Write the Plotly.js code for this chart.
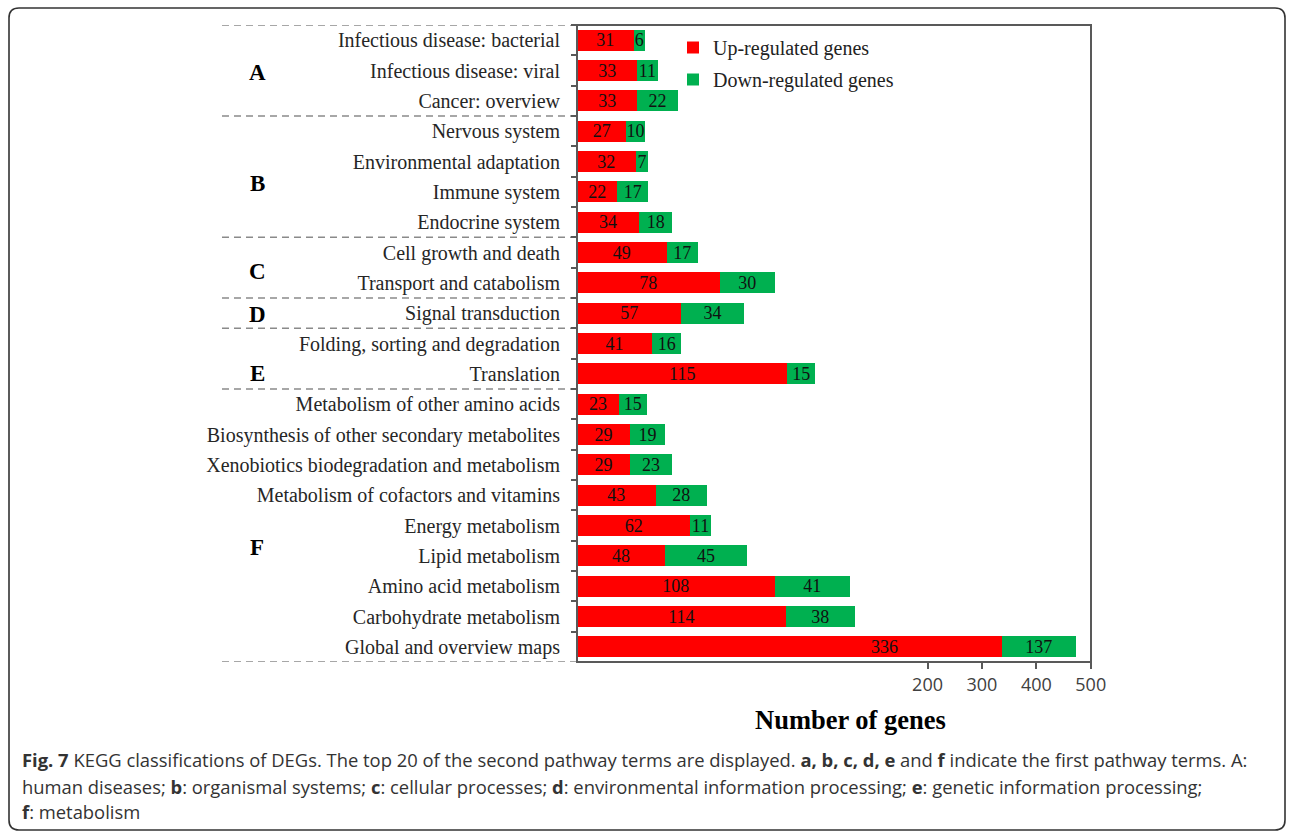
<!DOCTYPE html>
<html>
<head>
<meta charset="utf-8">
<script src="https://cdn.plot.ly/plotly-3.0.1.min.js"></script>
<style>html,body{margin:0;padding:0;background:#fff;}#chart{width:1292px;height:833px;}</style>
</head>
<body>
<div id="chart"></div>
<script>
// ---------------- data ----------------
const categories = [
  "Infectious disease: bacterial",
  "Infectious disease: viral",
  "Cancer: overview",
  "Nervous system",
  "Environmental adaptation",
  "Immune system",
  "Endocrine system",
  "Cell growth and death",
  "Transport and catabolism",
  "Signal transduction",
  "Folding, sorting and degradation",
  "Translation",
  "Metabolism of other amino acids",
  "Biosynthesis of other secondary metabolites",
  "Xenobiotics biodegradation and metabolism",
  "Metabolism of cofactors and vitamins",
  "Energy metabolism",
  "Lipid metabolism",
  "Amino acid metabolism",
  "Carbohydrate metabolism",
  "Global and overview maps"
];
const upRegulated   = [31, 33, 33, 27, 32, 22, 34, 49, 78, 57, 41, 115, 23, 29, 29, 43, 62, 48, 108, 114, 336];
const downRegulated = [6, 11, 22, 10, 7, 17, 18, 17, 30, 34, 16, 15, 15, 19, 23, 28, 11, 45, 41, 38, 137];
const groupLetters = ["A", "B", "C", "D", "E", "F"];
const groupSizes   = [3, 4, 2, 1, 2, 9];
const xTickValues  = [200, 300, 400, 500];
const seriesNames  = ["Up-regulated genes", "Down-regulated genes"];

// ---------------- layout helpers ----------------
const W = 1292, H = 833;
const M = {l: 577, r: 201, t: 25, b: 171};
const PW = W - M.l - M.r, PH = H - M.t - M.b;
const px = x => (x - M.l) / PW;       // pixel -> paper x
const py = y => (H - M.b - y) / PH;   // pixel -> paper y

// broken axis: lower part [0, axisBreak], upper part [axisBreak, axisTop]
const axisBreak = 188, axisTop = 500.5;
const splitFrac = 344 / PW;

const RED = "#FF0000", GREEN = "#00B050";
const serif = "Liberation Serif, Times New Roman, serif";
const textFont = {family: serif, size: 18, color: "#111"};

// labels: red on the lower axis; green on whichever axis holds its centre
const lowDownText = downRegulated.map((d, i) => (upRegulated[i] + d / 2 < axisBreak ? String(d) : ""));
const highDownText = downRegulated.map((d, i) => (upRegulated[i] + d / 2 < axisBreak ? "" : String(d)));

function barTrace(vals, name, color, xaxis, text, showlegend, group) {
  return {
    type: "bar", orientation: "h",
    x: vals, y: categories, name: name,
    xaxis: xaxis, yaxis: "y",
    marker: {color: color, line: {width: 0}},
    text: text, textposition: "inside", insidetextanchor: "middle",
    textangle: 0, constraintext: "none",
    insidetextfont: textFont, textfont: textFont,
    showlegend: showlegend, legendgroup: group,
    hoverinfo: "x+y+name"
  };
}

const traces = [
  barTrace(upRegulated, seriesNames[0], RED, "x", upRegulated.map(String), true, "up"),
  barTrace(downRegulated, seriesNames[1], GREEN, "x", lowDownText, true, "down"),
  barTrace(upRegulated, seriesNames[0], RED, "x2", upRegulated.map(() => ""), false, "up"),
  barTrace(downRegulated, seriesNames[1], GREEN, "x2", highDownText, false, "down")
];

// group separators and letters
const shapes = [];
const annotations = [];
const dashColor = "#8a8a8a";
let acc = 0;
const boundaries = [-0.5];
groupSizes.forEach(s => { acc += s; boundaries.push(acc - 0.5); });
boundaries.forEach(b => {
  shapes.push({type: "line", xref: "paper", yref: "y", x0: px(222), x1: 0, y0: b, y1: b,
    line: {color: dashColor, width: 1.5, dash: "7px,5px"}, layer: "below"});
});
const letterRows = [1.08, 4.71, 7.64, 9.06, 11.0, 16.74];
groupLetters.forEach((g, i) => {
  annotations.push({xref: "paper", yref: "y", x: px(257), y: letterRows[i], text: g, showarrow: false,
    xanchor: "center", yanchor: "middle", font: {family: serif, size: 23, color: "#000", weight: "bold"}});
});

// plot frame
shapes.push({type: "rect", xref: "paper", yref: "paper", x0: 0, x1: 1, y0: 0, y1: 1,
  line: {color: "#595959", width: 2}, fillcolor: "rgba(0,0,0,0)", layer: "above"});

// outer rounded border
const rad = 10, bL = 9, bR = 1285, bT = 8, bB = 830;
const borderPath = [
  `M${px(bL)},${py(bT + rad)}`,
  `Q${px(bL)},${py(bT)} ${px(bL + rad)},${py(bT)}`,
  `L${px(bR - rad)},${py(bT)}`,
  `Q${px(bR)},${py(bT)} ${px(bR)},${py(bT + rad)}`,
  `L${px(bR)},${py(bB - rad)}`,
  `Q${px(bR)},${py(bB)} ${px(bR - rad)},${py(bB)}`,
  `L${px(bL + rad)},${py(bB)}`,
  `Q${px(bL)},${py(bB)} ${px(bL)},${py(bB - rad)}`,
  "Z"
].join(" ");
shapes.push({type: "path", xref: "paper", yref: "paper", path: borderPath,
  line: {color: "#333", width: 1.6}, fillcolor: "rgba(0,0,0,0)"});

// x-axis title
annotations.push({xref: "paper", yref: "paper", x: px(850), y: py(720), text: "Number of genes",
  showarrow: false, xanchor: "center", yanchor: "middle",
  font: {family: serif, size: 26.5, color: "#000", weight: "bold"}});

// caption
const capFont = {family: "Open Sans, sans-serif", size: 18.4, color: "#333"};
const captionLines = [
  "<b>Fig. 7</b> KEGG classifications of DEGs. The top 20 of the second pathway terms are displayed. <b>a, b, c, d, e</b> and <b>f</b> indicate the first pathway terms. A:",
  "human diseases; <b>b</b>: organismal systems; <b>c</b>: cellular processes; <b>d</b>: environmental information processing; <b>e</b>: genetic information processing;",
  "<b>f</b>: metabolism"
];
const capY = [760, 786, 811];
captionLines.forEach((t, i) => {
  annotations.push({xref: "paper", yref: "paper", x: px(20), y: py(capY[i]), text: t, showarrow: false,
    xanchor: "left", yanchor: "middle", align: "left", font: capFont});
});

const layout = {
  width: W, height: H,
  margin: M,
  paper_bgcolor: "#fff", plot_bgcolor: "#fff",
  barmode: "stack", bargap: 0.31,
  showlegend: true,
  legend: {x: px(673), y: py(28), xanchor: "left", yanchor: "top",
    font: {family: serif, size: 20, color: "#222"}, bgcolor: "rgba(0,0,0,0)",
    traceorder: "grouped", tracegroupgap: 3},
  xaxis: {domain: [0, splitFrac], range: [0, axisBreak], anchor: "y",
    showticklabels: false, ticks: "", showgrid: false, zeroline: false, showline: false, fixedrange: true},
  xaxis2: {domain: [splitFrac, 1], range: [axisBreak, axisTop], anchor: "y",
    tickvals: xTickValues, ticktext: xTickValues.map(String),
    ticks: "outside", ticklen: 6, tickwidth: 2, tickcolor: "#595959",
    tickfont: {family: "Open Sans, sans-serif", size: 18, color: "#404040"},
    showgrid: false, zeroline: false, showline: false, fixedrange: true},
  yaxis: {type: "category", autorange: false, range: [categories.length - 0.5, -0.5],
    tickson: "boundaries", ticks: "outside", ticklen: 5, tickwidth: 2, tickcolor: "#595959",
    tickfont: {family: serif, size: 20, color: "#262626"},
    ticklabelstandoff: 16,
    showgrid: false, zeroline: false, showline: false, fixedrange: true},
  shapes: shapes,
  annotations: annotations
};

Plotly.newPlot("chart", traces, layout, {displayModeBar: false, staticPlot: true});
</script>
</body>
</html>
